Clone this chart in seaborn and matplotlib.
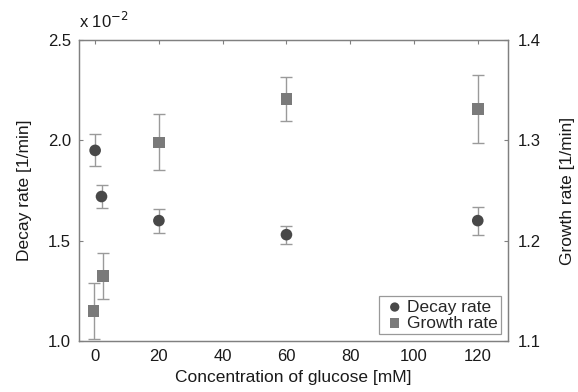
import numpy as np
import pandas as pd
import matplotlib
matplotlib.use("Agg")
import matplotlib.pyplot as plt
import seaborn as sns

# values
decay_conc = [0, 2, 20, 60, 120]
decay_rate = [1.95, 1.72, 1.60, 1.53, 1.60]          # x 10^-2 1/min
decay_err = [0.08, 0.055, 0.06, 0.045, 0.07]

growth_conc = [-0.5, 2.5, 20, 60, 120]
growth_rate = [1.130, 1.165, 1.298, 1.341, 1.331]    # 1/min
growth_err = [0.028, 0.023, 0.028, 0.022, 0.034]

x_ticks = [0, 20, 40, 60, 80, 100, 120]
left_ticks = [1.0, 1.5, 2.0, 2.5]
right_ticks = [1.1, 1.2, 1.3, 1.4]

sns.set_style("white")
plt.rcParams['font.family'] = ['Liberation Sans', 'DejaVu Sans']

fs_tick = 12
fs_lab = 12.5

decay_df = pd.DataFrame({"conc": decay_conc, "rate": decay_rate})
growth_df = pd.DataFrame({"conc": growth_conc, "rate": growth_rate})

fig = plt.figure(figsize=(5.78, 3.92), dpi=100)
ax = fig.add_axes([0.137, 0.130, 0.742, 0.768])
ax2 = ax.twinx()

err_col = "#9a9a9a"
ax.errorbar(decay_conc, decay_rate, yerr=decay_err, fmt="none", ecolor=err_col,
            elinewidth=1, capsize=4, capthick=1, zorder=1)
sns.scatterplot(data=decay_df, x="conc", y="rate", ax=ax, marker="o", s=70,
                color="#484848", edgecolor="none", zorder=3, label="Decay rate",
                legend=False)

ax2.errorbar(growth_conc, growth_rate, yerr=growth_err, fmt="none", ecolor=err_col,
             elinewidth=1, capsize=4, capthick=1, zorder=1)
sns.scatterplot(data=growth_df, x="conc", y="rate", ax=ax2, marker="s", s=70,
                color="#7a7a7a", edgecolor="none", zorder=3, label="Growth rate",
                legend=False)

ax.set_xlim(-5, 129.5)
ax.set_ylim(1.0, 2.5)
ax2.set_ylim(1.1, 1.4)

ax.set_xticks(x_ticks)
ax.set_yticks(left_ticks)
ax.set_yticklabels([f"{v:.1f}" for v in left_ticks])
ax2.set_yticks(right_ticks)
ax2.set_yticklabels([f"{v:.1f}" for v in right_ticks])

for a in (ax, ax2):
    for s in a.spines.values():
        s.set_color("#808080")
        s.set_linewidth(0.9)
ax.tick_params(axis="both", direction="in", length=3, color="#808080",
               labelsize=fs_tick, labelcolor="#1a1a1a", top=True, pad=6)
ax2.tick_params(axis="y", direction="in", length=3, color="#808080",
                labelsize=fs_tick, labelcolor="#1a1a1a", pad=7)

ax.set_xlabel("Concentration of glucose [mM]", fontsize=fs_lab, color="#1a1a1a", labelpad=4)
ax.set_ylabel("Decay rate [1/min]", fontsize=fs_lab, color="#1a1a1a", labelpad=11)
ax2.set_ylabel("Growth rate [1/min]", fontsize=fs_lab, color="#1a1a1a", labelpad=14)

ax.text(0.0, 1.03, r"x 10$^{-2}$", transform=ax.transAxes, fontsize=fs_tick,
        color="#1a1a1a", ha="left", va="bottom")

h1, l1 = ax.get_legend_handles_labels()
h2, l2 = ax2.get_legend_handles_labels()
leg = ax2.legend(h1 + h2, l1 + l2, loc="lower right", fontsize=fs_lab,
                 frameon=True, fancybox=False, edgecolor="#808080",
                 borderpad=0.2, handletextpad=0.0, labelspacing=0.05,
                 borderaxespad=0.4, markerscale=0.8, handlelength=1.4)
leg.get_frame().set_linewidth(0.9)

fig.savefig("out.png", dpi=100)
